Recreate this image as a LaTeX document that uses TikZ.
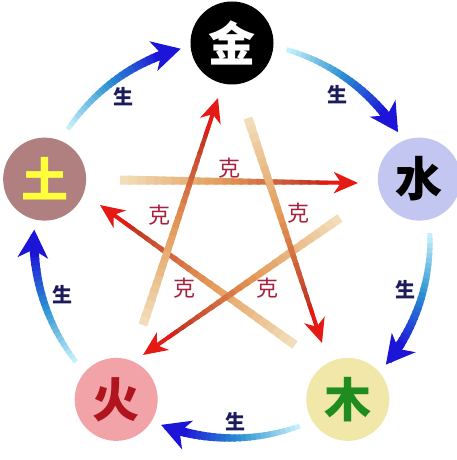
\documentclass[tikz,border=0pt]{standalone}
\usepackage{fontspec}
\newfontfamily\cjk{Noto Sans CJK SC}
\usepackage{tikz}
\usetikzlibrary{arrows.meta,calc}

\definecolor{shuiC}{HTML}{C3C6F0}
\definecolor{muC}{HTML}{F1E7A9}
\definecolor{huoC}{HTML}{F2A3A8}
\definecolor{tuC}{HTML}{B07F80}
\definecolor{muT}{HTML}{1E8C1E}
\definecolor{huoT}{HTML}{B0141E}
\definecolor{tuT}{HTML}{FFFF3C}
\definecolor{shengT}{HTML}{1C1C5C}
\definecolor{keT}{HTML}{A8203C}
\definecolor{keTan}{HTML}{F2DDB8}
\definecolor{keOr}{HTML}{E39A58}
\definecolor{keRed}{HTML}{C03020}
\definecolor{keHead}{HTML}{E61A14}
\definecolor{shLight}{HTML}{C4F0FA}
\definecolor{shMid}{HTML}{2C92D2}
\definecolor{shDark}{HTML}{1C14D6}

\tikzset{
  elem/.style={circle, minimum size=83pt, inner sep=0pt, font=\cjk\bfseries\fontsize{47}{47}\selectfont},
  sheng/.style={font=\cjk\bfseries\fontsize{20}{20}\selectfont, text=shengT},
  ke/.style={font=\cjk\fontsize{22}{22}\selectfont, text=keT},
}

% tapered red arrow of the ke cycle
\newcommand\kearrow[2]{%
  \foreach \i in {0,...,23}{%
    \pgfmathsetmacro\ta{0.86*\i/24}%
    \pgfmathsetmacro\tb{0.86*(\i+1.4)/24}%
    \pgfmathtruncatemacro\p{\i*100/23}%
    \pgfmathsetmacro\lw{9-5*\i/23}%
    \ifnum\p<50 \pgfmathtruncatemacro\q{2*\p}\colorlet{kec}{keOr!\q!keTan}%
    \else \pgfmathtruncatemacro\q{2*\p-100}\colorlet{kec}{keRed!\q!keOr}\fi
    \draw[kec, line width=\lw pt] ($(#1)!\ta!(#2)$) -- ($(#1)!\tb!(#2)$);
  }%
  \draw[keHead, line width=4pt, -{Stealth[length=24pt,width=21pt,inset=7pt]}] ($(#1)!0.84!(#2)$) -- (#2);
}

% blue arc of the sheng cycle, clockwise from #1 down to #2
\newcommand\sharc[2]{%
  \foreach \i in {0,...,23}{%
    \pgfmathsetmacro\aa{#1-(#1-#2-6)*\i/24}%
    \pgfmathsetmacro\ab{#1-(#1-#2-6)*(\i+1.3)/24}%
    \pgfmathtruncatemacro\p{\i*100/23}%
    \pgfmathsetmacro\lw{5+4*\i/23}%
    \ifnum\p<50 \pgfmathtruncatemacro\q{2*\p}\colorlet{shc}{shMid!\q!shLight}%
    \else \pgfmathtruncatemacro\q{2*\p-100}\colorlet{shc}{shDark!\q!shMid}\fi
    \draw[shc, line width=\lw pt] (\aa:198pt) arc[start angle=\aa, end angle=\ab, radius=198pt];
  }%
  \pgfmathsetmacro\ac{#2+8}%
  \draw[shDark, line width=8pt, -{Stealth[length=28pt,width=30pt,inset=8pt]}] (\ac:198pt) arc[start angle=\ac, end angle=#2, radius=198pt];
}

\begin{document}
\begin{tikzpicture}[x=1pt,y=1pt]

\useasboundingbox (-232,-220) rectangle (224,240);

% the five elements
\node[elem, fill=black, text=white] (jin)  at (90:197pt)   {金};
\node[elem, fill=shuiC, text=black] (shui) at (18:197pt)   {水};
\node[elem, fill=muC,   text=muT]   (mu)   at (-54:197pt)  {木};
\node[elem, fill=huoC,  text=huoT]  (huo)  at (-126:197pt) {火};
\node[elem, fill=tuC,   text=tuT]   (tu)   at (162:197pt)  {土};

% sheng cycle
\sharc{74}{33}
\sharc{2}{-39}
\sharc{-70}{-111}
\sharc{-142}{-183}
\sharc{146}{105}

\node[sheng] (s1) at (54:180pt)   {生};
\node[sheng] (s2) at (-16:180pt)  {生};
\node[sheng] (s3) at (-89:182pt)  {生};
\node[sheng] (s4) at (-162:178pt) {生};
\node[sheng] (s5) at (127:180pt)  {生};

% ke cycle
\coordinate (huoJ) at (-89,-85);  \coordinate (jinH) at (-14,142);
\coordinate (tuS)  at (-112,60);  \coordinate (shuiT) at (126,57);
\coordinate (jinM) at (16,122);   \coordinate (muJ)  at (90,-103);
\coordinate (shuiH) at (108,22);  \coordinate (huoS) at (-89,-115);
\coordinate (muT)  at (63,-105);  \coordinate (tuM)  at (-132,35);

\kearrow{tuS}{shuiT}
\kearrow{muT}{tuM}
\kearrow{shuiH}{huoS}
\kearrow{jinM}{muJ}
\kearrow{huoJ}{jinH}

\node[ke] (k1) at (-2,72)   {克};
\node[ke] (k2) at (-72,25)  {克};
\node[ke] (k3) at (66,27)   {克};
\node[ke] (k4) at (-47,-48) {克};
\node[ke] (k5) at (35,-48)  {克};

\end{tikzpicture}
\end{document}
